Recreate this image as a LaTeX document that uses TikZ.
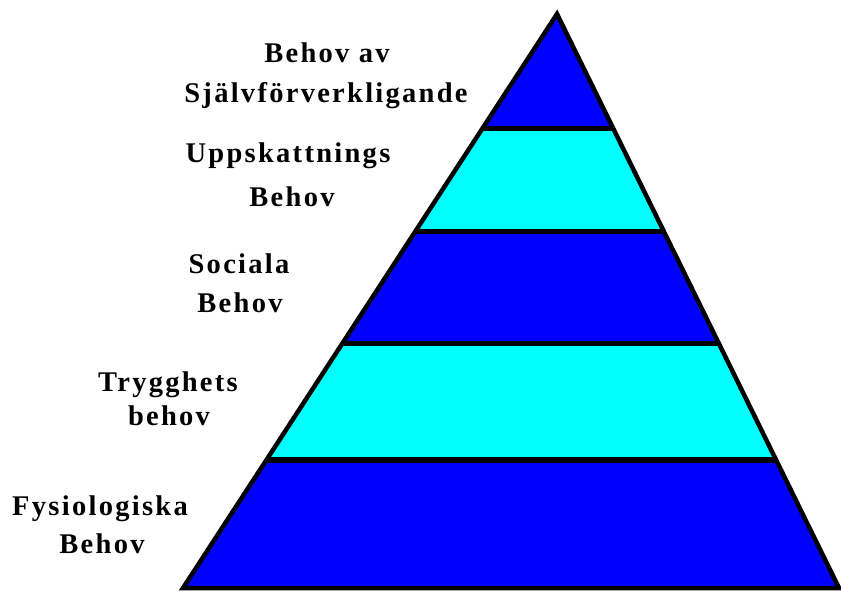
\documentclass[tikz,border=0pt]{standalone}
\usepackage{fontspec}
\setmainfont{Liberation Serif}[LetterSpace=8]
\usetikzlibrary{calc}
\definecolor{pblue}{RGB}{0,0,255}
\definecolor{pcyan}{RGB}{0,255,255}
\tikzset{
  lbl/.style={anchor=base, inner sep=0pt, font=\fontsize{28.5}{32}\selectfont\bfseries},
  band/.style={draw=none},
  divider/.style={draw=black, line width=5.5pt},
  outline/.style={draw=black, line width=4.5pt, line join=miter}
}
\begin{document}
\begin{tikzpicture}[x=1pt,y=-1pt]
\useasboundingbox (0,0) rectangle (841,591);
\coordinate (apex) at (557,14);
\coordinate (bl) at (183,588);
\coordinate (br) at (839,588);
% divider points
\foreach \n/\t in {a/0.1993,b/0.3787,c/0.5742,d/0.7766}{
  \coordinate (L\n) at ($(apex)!\t!(bl)$);
  \coordinate (R\n) at ($(apex)!\t!(br)$);
}
\fill[pblue] (apex) -- (Ra) -- (La) -- cycle;
\fill[pcyan] (La) -- (Ra) -- (Rb) -- (Lb) -- cycle;
\fill[pblue] (Lb) -- (Rb) -- (Rc) -- (Lc) -- cycle;
\fill[pcyan] (Lc) -- (Rc) -- (Rd) -- (Ld) -- cycle;
\fill[pblue] (Ld) -- (Rd) -- (br) -- (bl) -- cycle;
\draw[divider] (La) -- (Ra);
\draw[divider] (Lb) -- (Rb);
\draw[divider] (Lc) -- (Rc);
\draw[divider] (Ld) -- (Rd);
\draw[outline] (apex) -- (br) -- (bl) -- cycle;
% labels
\node[lbl] (t1a) at (327,63) {Behov av};
\node[lbl] (t1b) at (326,103) {Självförverkligande};
\node[lbl] (t2a) at (288,163) {Uppskattnings};
\node[lbl] (t2b) at (292,206) {Behov};
\node[lbl] (t3a) at (239,273) {Sociala};
\node[lbl] (t3b) at (240,312) {Behov};
\node[lbl] (t4a) at (168,391) {Trygghets};
\node[lbl] (t4b) at (169,425) {behov};
\node[lbl] (t5a) at (100,515) {Fysiologiska};
\node[lbl] (t5b) at (102,553) {Behov};
\end{tikzpicture}
\end{document}
